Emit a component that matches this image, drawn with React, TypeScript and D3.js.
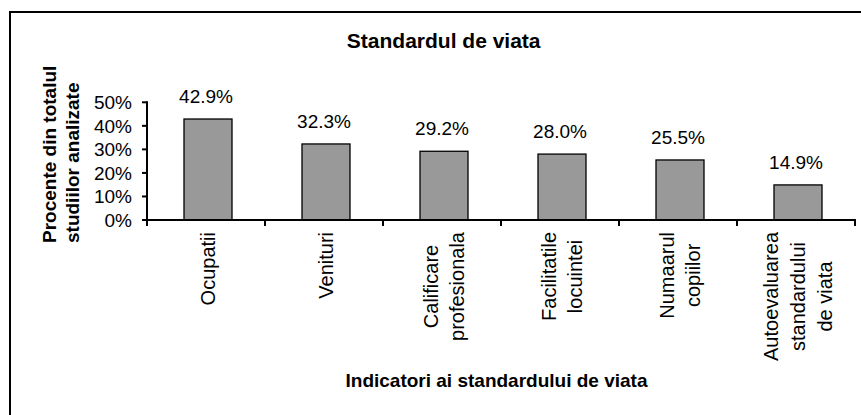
import React, { useEffect, useRef } from "react";
import * as d3 from "d3";

const categories = [
  ["Ocupatii"],
  ["Venituri"],
  ["Calificare", "profesionala"],
  ["Facilitatile", "locuintei"],
  ["Numaarul", "copiilor"],
  ["Autoevaluarea", "standardului", "de viata"],
];
const values = [42.9, 32.3, 29.2, 28.0, 25.5, 14.9];
const yTicks = [0, 10, 20, 30, 40, 50];

const chartTitle = "Standardul de viata";
const xTitle = "Indicatori ai standardului de viata";
const yTitle = ["Procente din totalul", "studiilor analizate"];

const FONT = "Arial, 'Liberation Sans', sans-serif";

const App = () => {
  const ref = useRef<SVGSVGElement>(null);

  useEffect(() => {
    const svg = d3.select(ref.current);
    svg.selectAll("*").remove();

    const keys = categories.map((c) => c.join(" "));
    const x = d3.scaleBand().domain(keys).range([147, 855]);
    const y = d3.scaleLinear().domain([0, 50]).range([220, 102.3]);
    const bw = x.bandwidth();

    // outer frame (runs off the right and bottom edges)
    svg
      .append("path")
      .attr("d", "M10,420 L10,12 L870,12")
      .attr("fill", "none")
      .attr("stroke", "#000")
      .attr("stroke-width", 2);

    svg
      .append("text")
      .attr("x", 443.7)
      .attr("y", 48.3)
      .attr("text-anchor", "middle")
      .attr("font-family", FONT)
      .attr("font-weight", "bold")
      .attr("font-size", 21)
      .text(chartTitle);

    // bars
    svg
      .selectAll("rect.bar")
      .data(values)
      .enter()
      .append("rect")
      .attr("class", "bar")
      .attr("x", (d, i) => x(keys[i])! + (bw - 48) / 2 + 2)
      .attr("y", (d) => y(d))
      .attr("width", 48)
      .attr("height", (d) => y(0) - y(d))
      .attr("fill", "#999999")
      .attr("stroke", "#000")
      .attr("stroke-width", 1.3);

    // value labels
    svg
      .selectAll("text.val")
      .data(values)
      .enter()
      .append("text")
      .attr("class", "val")
      .attr("x", (d, i) => x(keys[i])! + bw / 2)
      .attr("y", (d) => y(d) - 16)
      .attr("text-anchor", "middle")
      .attr("font-family", FONT)
      .attr("font-size", 19)
      .text((d) => d.toFixed(1) + "%");

    // y axis
    svg
      .append("line")
      .attr("x1", 147)
      .attr("x2", 147)
      .attr("y1", y(50) - 1)
      .attr("y2", 226)
      .attr("stroke", "#000")
      .attr("stroke-width", 2);

    yTicks.forEach((t) => {
      svg
        .append("line")
        .attr("x1", 142)
        .attr("x2", 147)
        .attr("y1", y(t))
        .attr("y2", y(t))
        .attr("stroke", "#000")
        .attr("stroke-width", 2);
      svg
        .append("text")
        .attr("x", 132)
        .attr("y", y(t))
        .attr("dy", "0.36em")
        .attr("text-anchor", "end")
        .attr("font-family", FONT)
        .attr("font-size", 19)
        .text(t + "%");
    });

    // x axis
    svg
      .append("line")
      .attr("x1", 146)
      .attr("x2", 856)
      .attr("y1", y(0))
      .attr("y2", y(0))
      .attr("stroke", "#000")
      .attr("stroke-width", 2);

    keys.forEach((k) => {
      const xe = x(k)! + bw;
      svg
        .append("line")
        .attr("x1", xe)
        .attr("x2", xe)
        .attr("y1", y(0))
        .attr("y2", 226)
        .attr("stroke", "#000")
        .attr("stroke-width", 2);
    });

    // category labels, rotated, lines centred in a block hanging from the axis
    const lh = 26.7;
    categories.forEach((lines, i) => {
      const cx = x(keys[i])! + bw / 2;
      const g = svg.append("g");
      const texts = lines.map((ln) =>
        g
          .append("text")
          .attr("font-family", FONT)
          .attr("font-size", 20)
          .attr("text-anchor", "middle")
          .text(ln)
      );
      const maxLen = d3.max(texts, (t) => (t.node() as SVGTextElement).getComputedTextLength()) || 0;
      const cy = 232 + maxLen / 2;
      texts.forEach((t, j) => {
        const bx = cx + (j - (lines.length - 1) / 2) * lh + 9;
        t.attr("transform", `translate(${bx},${cy}) rotate(-90)`);
      });
    });

    // axis titles
    svg
      .append("text")
      .attr("x", 496.5)
      .attr("y", 387)
      .attr("text-anchor", "middle")
      .attr("font-family", FONT)
      .attr("font-weight", "bold")
      .attr("font-size", 19)
      .text(xTitle);

    yTitle.forEach((ln, j) => {
      svg
        .append("text")
        .attr("transform", `translate(${56 + j * 23},243) rotate(-90)`)
        .attr("text-anchor", "start")
        .attr("font-family", FONT)
        .attr("font-weight", "bold")
        .attr("font-size", 19)
        .text(ln);
    });
  }, []);

  return (
    <svg
      ref={ref}
      width={861}
      height={415}
      style={{ position: "absolute", left: 0, top: 0, background: "#fff" }}
    />
  );
};

export default App;
